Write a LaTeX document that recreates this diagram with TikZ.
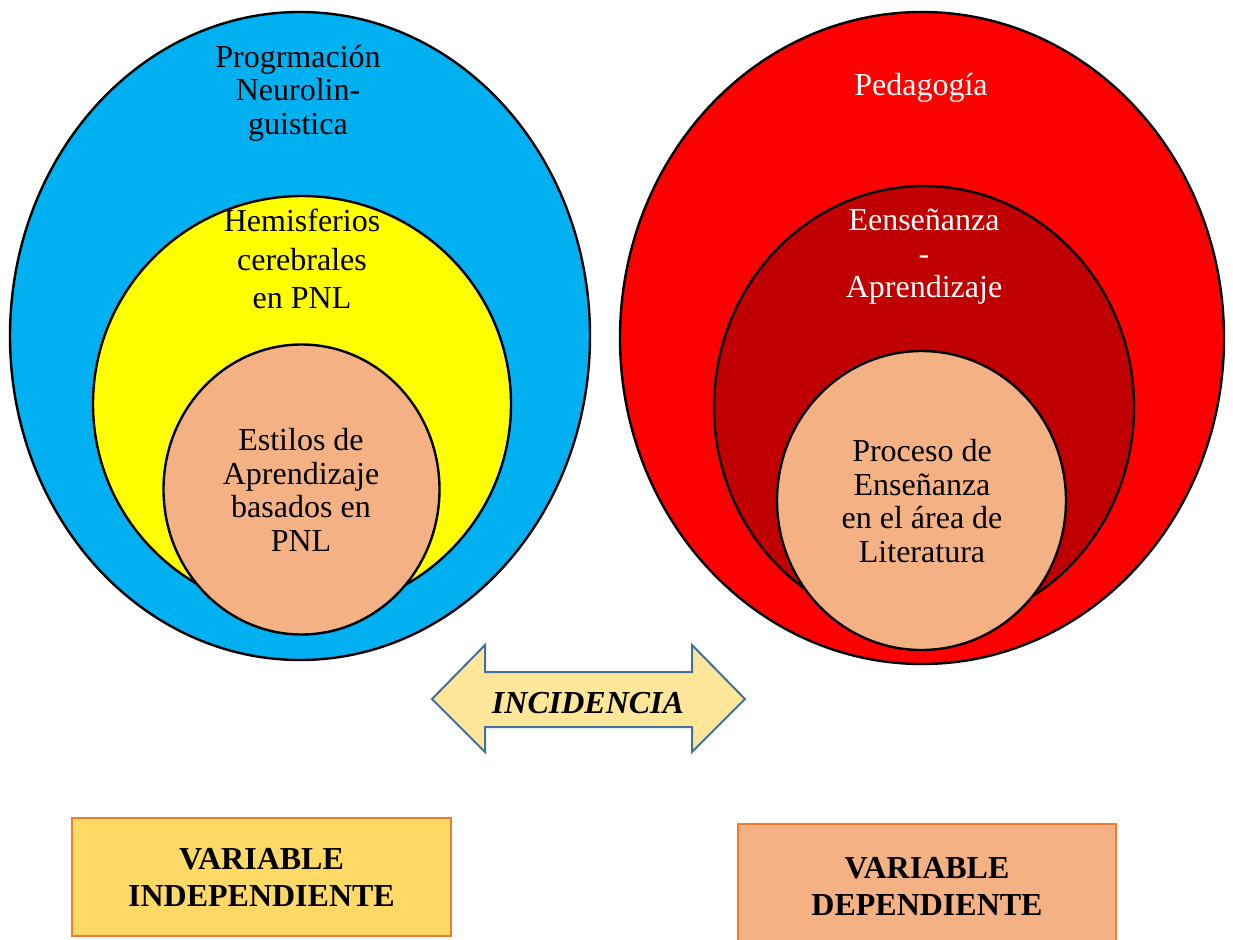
\documentclass[tikz,border=0pt]{standalone}
\usepackage{fontspec}
\setmainfont{Liberation Serif}
\definecolor{cblue}{HTML}{00B0F0}
\definecolor{cyel}{HTML}{FFFF00}
\definecolor{csal}{HTML}{F4B183}
\definecolor{cred}{HTML}{FF0000}
\definecolor{cdred}{HTML}{C00000}
\definecolor{carrow}{HTML}{FFE699}
\definecolor{carrowb}{HTML}{41719C}
\definecolor{cboxy}{HTML}{FFD966}
\definecolor{cboxb}{HTML}{ED7D31}
\tikzset{
  ell/.style={draw=black, line width=2.4pt},
  lbl/.style={align=center, inner sep=0pt, font=\fontsize{32}{33.5}\selectfont},
  lblw/.style={lbl, text=white},
  varbox/.style={draw=cboxb, line width=1.3pt, align=center, inner sep=0pt,
     font=\fontsize{32}{37}\selectfont\bfseries},
}
\begin{document}
\begin{tikzpicture}[x=1pt,y=-1pt]
\useasboundingbox (0,0) rectangle (1233,939);
% left ellipses
\path[ell, fill=cblue] (300,336) ellipse [x radius=290pt, y radius=324pt];
\path[ell, fill=cyel] (302,404) ellipse [x radius=209pt, y radius=208pt];
\path[ell, fill=csal] (301.5,489.5) ellipse [x radius=138pt, y radius=145pt];
% right ellipses
\path[ell, fill=cred] (922,338) ellipse [x radius=302pt, y radius=326pt];
\path[ell, fill=cdred] (924,407) ellipse [x radius=210pt, y radius=221pt];
\path[ell, fill=csal] (921.5,500.5) ellipse [x radius=144.5pt, y radius=149.5pt];
% labels
\node[lbl] (pnl) at (298,93) {Progrmación\\Neurolin-\\guistica};
\node[lbl, font=\fontsize{32}{38.5}\selectfont] (hem) at (302,259) {Hemisferios\\cerebrales\\en PNL};
\node[lbl] (est) at (301,490) {Estilos de\\Aprendizaje\\basados en\\PNL};
\node[lblw] (ped) at (921,88) {Pedagogía};
\node[lblw] (ens) at (924,257) {Eenseñanza\\-\\Aprendizaje};
\node[lbl] (pro) at (922,501) {Proceso de\\Enseñanza\\en el área de\\Literatura};
% arrow
\path[draw=carrowb, line width=2pt, fill=carrow, line join=miter]
  (432,699) -- (485,645) -- (485,672) -- (692,672) -- (692,645) -- (745,699)
  -- (692,752) -- (692,727) -- (485,727) -- (485,752) -- cycle;
\node[font=\fontsize{32}{33}\selectfont\bfseries\itshape, inner sep=0pt] (inc) at (588,703) {INCIDENCIA};
% boxes
\node[varbox, fill=cboxy, minimum width=379pt, minimum height=118pt] (vi) at (261.5,877) {VARIABLE\\INDEPENDIENTE};
\node[varbox, fill=csal, minimum width=378pt, minimum height=124pt] (vd) at (927,886) {VARIABLE\\DEPENDIENTE};
\end{tikzpicture}
\end{document}
